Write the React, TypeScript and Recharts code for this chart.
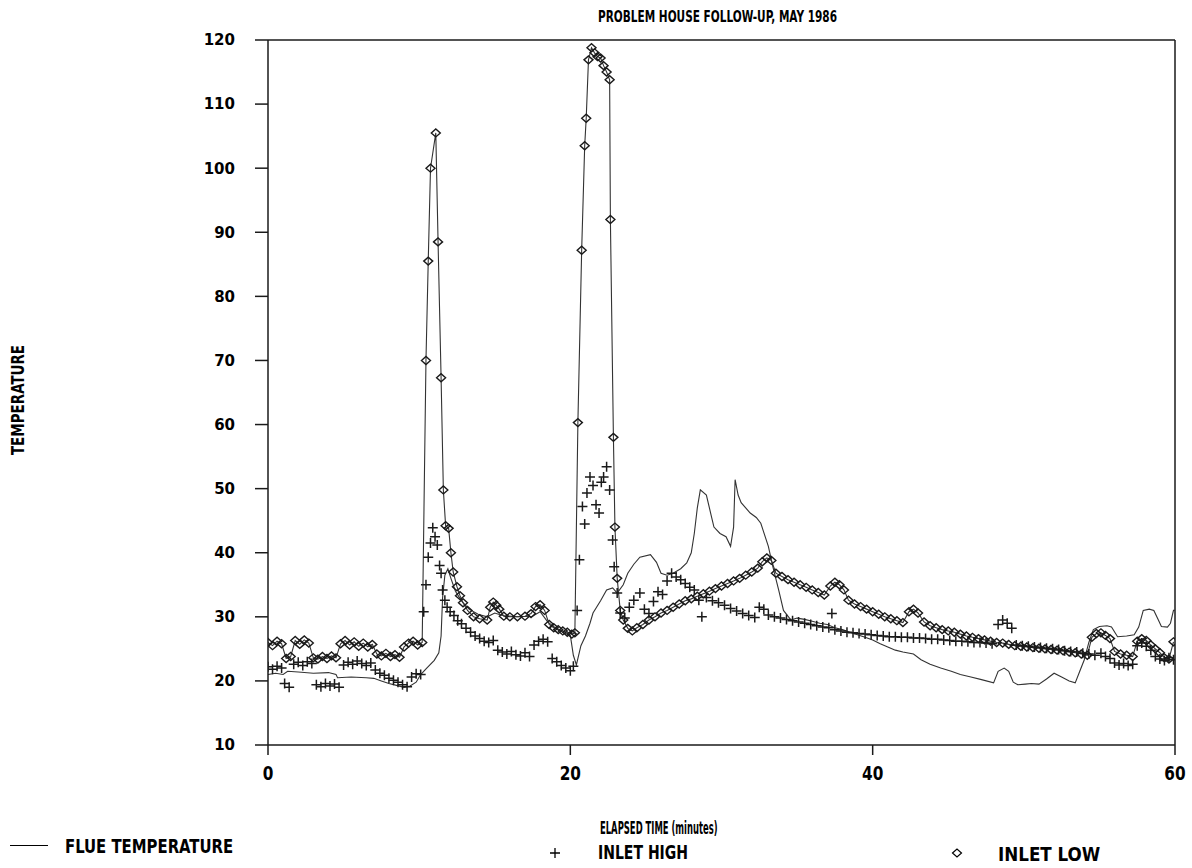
import React from "react";
import {
  ComposedChart,
  Line,
  Scatter,
  XAxis,
  YAxis,
  ReferenceLine,
} from "recharts";

// ---- Data: [elapsed time (minutes), temperature] ----
const FLUE_TEMPERATURE: [number, number][] = [
  [0, 21], [0.5, 21.2], [1, 21], [1.3, 21.5], [2, 21.4], [3, 21.2], [4, 21.3], [4.5, 21], [4.6, 20.5],
  [5.5, 20.6], [6.5, 20.5], [7, 20.4], [7.5, 20], [8, 19.6], [8.5, 19.3], [9, 19], [9.4, 19.2], [9.8, 19.8],
  [10.1, 21], [10.5, 22], [11, 23.2], [11.3, 24.4], [11.45, 27], [11.55, 33], [11.7, 36.5], [11.9, 37.5],
  [12.1, 36], [12.4, 34], [12.8, 32.5], [13.3, 31.2], [13.9, 30.4], [14.5, 30], [15, 30.6], [15.5, 30.2],
  [16.5, 30], [17.5, 30.1], [18, 30.8], [18.5, 29.2], [19, 28.3], [19.5, 27.6], [20, 27.1], [20.2, 24],
  [20.4, 22.5], [20.7, 25.5], [21, 27], [21.3, 29], [21.5, 30.6], [22, 32.5], [22.4, 34.2], [22.8, 34.5],
  [23.1, 33.7], [23.5, 35], [23.8, 36.8], [24.2, 38.2], [24.6, 39.3], [25.3, 39.7], [25.7, 38.5], [26, 36.8],
  [26.4, 36.5], [26.8, 36.8], [27.3, 37.5], [27.7, 38.4], [28, 40], [28.2, 43], [28.4, 47], [28.6, 49.8],
  [29, 49], [29.3, 46], [29.5, 44], [29.9, 43], [30.3, 42.5], [30.6, 41], [30.8, 44], [30.9, 51.4],
  [31.1, 49], [31.3, 47.8], [31.6, 47], [31.9, 46.2], [32.3, 45.5], [32.6, 44.6], [33.1, 41], [33.4, 37.8],
  [33.8, 34], [34.1, 31], [34.6, 29.5], [35, 29.8], [35.5, 29.6], [36, 29.3], [36.5, 29], [37, 28.8],
  [37.5, 28.3], [38, 28], [38.5, 27.6], [39, 27.2], [39.5, 26.8], [40, 26.4], [40.5, 25.8], [41, 25.3],
  [41.5, 24.8], [42, 24.5], [42.7, 24.2], [43.2, 23.3], [43.8, 22.6], [44.5, 22], [45.2, 21.5], [45.8, 21],
  [46.5, 20.6], [47.2, 20.2], [48, 19.7], [48.3, 21.5], [48.7, 22], [49, 21.5], [49.3, 19.8], [49.6, 19.4],
  [50.1, 19.5], [50.5, 19.6], [51, 19.5], [51.5, 20.3], [52, 21.2], [52.5, 20.6], [53, 20], [53.4, 19.7],
  [53.7, 21.5], [54, 23.3], [54.3, 26], [54.6, 28], [55, 28.5], [55.5, 28.6], [55.8, 28.4], [56.2, 26.9],
  [56.8, 27], [57.3, 27.2], [57.6, 28.4], [57.9, 31], [58.3, 31.2], [58.6, 31], [58.9, 29.5], [59.1, 28.5],
  [59.5, 28.4], [59.7, 29], [59.9, 31], [60, 31],
];

const INLET_HIGH: [number, number][] = [
  [0, 22.2], [0.3, 21.8], [0.6, 22.3], [0.9, 22], [1.1, 19.6], [1.4, 19], [1.7, 22.6], [2.0, 22.9],
  [2.3, 22.4], [2.6, 23], [2.9, 22.7], [3.2, 19.4], [3.5, 19.1], [3.8, 19.6], [4.1, 19.2], [4.4, 19.5],
  [4.7, 19], [5.0, 22.5], [5.3, 22.9], [5.6, 22.6], [5.9, 23.1], [6.2, 22.7], [6.5, 22.4], [6.8, 22.8],
  [7.1, 21.7], [7.4, 21.2], [7.7, 20.9], [8.0, 20.4], [8.3, 20.1], [8.6, 19.8], [8.9, 19.4], [9.2, 19.1],
  [9.5, 20.6], [9.8, 21.1], [10.1, 21], [10.3, 30.8], [10.45, 35], [10.6, 39.3], [10.75, 41.5], [10.9, 43.9],
  [11.05, 42.5], [11.2, 41.2], [11.35, 38], [11.45, 36.8], [11.55, 34.2], [11.7, 32.6], [11.85, 31.5],
  [12.05, 30.8], [12.3, 30.2], [12.55, 29.4], [12.8, 28.9], [13.1, 28.2], [13.4, 27.6], [13.7, 27],
  [14.0, 26.6], [14.3, 26.2], [14.6, 26], [14.9, 26.3], [15.2, 24.8], [15.5, 24.5], [15.8, 24.2], [16.1, 24.6],
  [16.4, 24.1], [16.7, 23.9], [17.0, 24.4], [17.3, 23.8], [17.6, 25.6], [17.9, 26.2], [18.2, 26.5],
  [18.5, 26.1], [18.8, 23.5], [19.1, 23], [19.4, 22.4], [19.7, 22], [20.0, 21.6], [20.2, 22.3],
  [20.45, 31], [20.6, 38.9], [20.8, 47.2], [20.95, 44.5], [21.1, 49.3], [21.3, 51.8], [21.5, 50.5],
  [21.7, 47.5], [21.9, 46.2], [22.05, 51], [22.2, 51.8], [22.4, 53.4], [22.6, 49.8], [22.8, 42], [22.9, 37.8],
  [23.1, 33.7], [23.3, 30.6], [23.6, 29.8], [23.9, 31.5], [24.2, 32.6], [24.6, 33.7], [24.9, 31.2],
  [25.2, 30.5], [25.5, 32.4], [25.8, 33.9], [26.1, 33.5], [26.4, 35.6], [26.7, 36.8], [27.0, 36.2],
  [27.3, 35.8], [27.6, 35.2], [27.9, 34.6], [28.2, 34.2], [28.5, 32.6], [28.7, 30], [29.0, 33], [29.4, 32.5],
  [29.8, 32.2], [30.2, 31.8], [30.6, 31.3], [31.0, 30.9], [31.4, 30.5], [31.8, 30.2], [32.2, 29.9],
  [32.5, 31.5], [32.8, 31.2], [33.1, 30.3], [33.5, 30], [33.9, 29.8], [34.3, 29.6], [34.7, 29.4],
  [35.1, 29.2], [35.5, 29], [35.9, 28.8], [36.3, 28.6], [36.7, 28.4], [37.1, 28.3], [37.3, 30.5], [37.5, 28],
  [37.9, 27.8], [38.3, 27.6], [38.7, 27.5], [39.1, 27.4], [39.5, 27.3], [39.9, 27.2], [40.3, 27.1],
  [40.7, 27], [41.1, 26.9], [41.5, 26.9], [41.9, 26.8], [42.3, 26.8], [42.7, 26.7], [43.1, 26.7],
  [43.5, 26.6], [43.9, 26.5], [44.3, 26.5], [44.7, 26.4], [45.1, 26.3], [45.5, 26.2], [45.9, 26.2],
  [46.3, 26.1], [46.7, 26], [47.1, 26], [47.5, 25.9], [47.9, 25.8], [48.3, 28.8], [48.6, 29.5], [48.9, 29],
  [49.2, 28.2], [49.5, 25.6], [49.9, 25.5], [50.3, 25.4], [50.7, 25.3], [51.1, 25.2], [51.5, 25.1],
  [51.9, 25], [52.3, 24.9], [52.7, 24.7], [53.1, 24.6], [53.5, 24.5], [53.9, 24.3], [54.3, 24.2],
  [54.7, 24], [55.1, 24.3], [55.4, 23.8], [55.7, 23.5], [56.0, 22.8], [56.3, 22.5], [56.6, 22.7],
  [56.9, 22.4], [57.2, 22.6], [57.5, 25.5], [57.8, 25.9], [58.1, 25.4], [58.4, 24.8], [58.7, 23.8],
  [59.0, 23.4], [59.3, 23.2], [59.6, 23.6], [59.9, 23.3],
];

const INLET_LOW: [number, number][] = [
  [0, 26], [0.3, 25.5], [0.6, 26.2], [0.9, 25.8], [1.2, 23.5], [1.5, 23.8], [1.8, 26.3], [2.1, 25.7],
  [2.4, 26.4], [2.7, 25.9], [3.0, 23.6], [3.3, 23.4], [3.6, 23.8], [3.9, 23.5], [4.2, 23.9], [4.5, 23.6],
  [4.8, 25.8], [5.1, 26.3], [5.4, 25.6], [5.7, 26.1], [6.0, 25.4], [6.3, 25.9], [6.6, 25.3], [6.9, 25.7],
  [7.2, 24.2], [7.5, 23.9], [7.8, 24.3], [8.1, 23.8], [8.4, 24.1], [8.7, 23.7], [9.0, 25.3], [9.3, 25.9],
  [9.6, 26.2], [9.9, 25.6], [10.2, 26], [10.45, 70], [10.6, 85.5], [10.75, 100], [11.1, 105.5],
  [11.25, 88.5], [11.45, 67.3], [11.6, 49.8], [11.75, 44.2], [11.95, 43.8], [12.1, 40], [12.25, 37],
  [12.5, 34.7], [12.7, 33.3], [12.9, 32.2], [13.2, 31], [13.6, 30], [14.0, 29.7], [14.5, 29.5], [14.7, 31.5],
  [14.9, 32.3], [15.1, 31.8], [15.3, 31.2], [15.6, 30.1], [16.0, 30], [16.5, 30], [17.0, 30.1], [17.4, 30.5],
  [17.7, 31.6], [18.0, 31.9], [18.3, 31], [18.6, 28.8], [18.9, 28.3], [19.2, 28], [19.5, 27.8], [19.8, 27.6],
  [20.1, 27.3], [20.3, 27.5], [20.5, 60.3], [20.75, 87.2], [20.95, 103.5], [21.05, 107.8], [21.2, 116.9],
  [21.4, 118.8], [21.6, 118], [21.8, 117.4], [22.0, 117.2], [22.2, 116], [22.4, 115], [22.6, 113.8],
  [22.65, 92], [22.85, 58], [22.95, 44], [23.1, 36], [23.3, 31], [23.5, 29.5], [23.8, 28.2], [24.1, 27.8],
  [24.4, 28.3], [24.8, 28.8], [25.2, 29.5], [25.6, 30], [26.0, 30.6], [26.4, 31], [26.8, 31.5], [27.2, 32],
  [27.6, 32.5], [28.0, 32.8], [28.4, 33.2], [28.8, 33.6], [29.2, 34], [29.6, 34.4], [30.0, 34.8],
  [30.4, 35.2], [30.8, 35.6], [31.2, 36], [31.6, 36.5], [32.0, 37], [32.4, 37.6], [32.7, 38.6], [33.0, 39.2],
  [33.3, 38.8], [33.6, 36.8], [34.0, 36.3], [34.4, 35.8], [34.8, 35.4], [35.2, 35], [35.6, 34.6],
  [36.0, 34.2], [36.4, 33.8], [36.8, 33.4], [37.2, 34.8], [37.5, 35.4], [37.8, 35], [38.1, 34.2],
  [38.4, 32.6], [38.8, 32], [39.2, 31.6], [39.6, 31.2], [40.0, 30.8], [40.4, 30.4], [40.8, 30], [41.2, 29.7],
  [41.6, 29.4], [42.0, 29.1], [42.4, 30.8], [42.7, 31.2], [43.0, 30.6], [43.4, 29.2], [43.8, 28.6],
  [44.2, 28.3], [44.6, 28], [45.0, 27.8], [45.4, 27.6], [45.8, 27.3], [46.2, 27], [46.6, 26.8], [47.0, 26.6],
  [47.4, 26.4], [47.8, 26.2], [48.2, 26], [48.6, 25.9], [49.0, 25.7], [49.4, 25.5], [49.8, 25.4],
  [50.2, 25.3], [50.6, 25.2], [51.0, 25.1], [51.4, 25], [51.8, 24.9], [52.2, 24.8], [52.6, 24.7], [53.0, 24.5],
  [53.4, 24.4], [53.8, 24.2], [54.2, 24], [54.5, 26.8], [54.8, 27.4], [55.1, 27.5], [55.4, 27.1],
  [55.7, 26.6], [56.0, 24.6], [56.4, 24.2], [56.8, 24], [57.2, 23.8], [57.5, 26.2], [57.8, 26.6],
  [58.1, 26.3], [58.4, 25.6], [58.7, 25], [59.0, 24.4], [59.3, 23.6], [59.6, 23.4], [59.9, 26.1],
];

const X_TICKS = [0, 20, 40, 60];
const Y_TICKS = [10, 20, 30, 40, 50, 60, 70, 80, 90, 100, 110, 120];

const TITLE = "PROBLEM HOUSE FOLLOW-UP, MAY 1986";
const X_LABEL = "ELAPSED TIME (minutes)";
const Y_LABEL = "TEMPERATURE";
const SERIES_NAMES = ["FLUE TEMPERATURE", "INLET HIGH", "INLET LOW"];

const toPoints = (arr: [number, number][]) => arr.map(([t, v]) => ({ t, v }));

const NARROW = "'DejaVu Sans Condensed', 'Liberation Sans', sans-serif";
const INK = "#1a1a1a";

const Cross = (props: any) => {
  const { cx, cy } = props;
  if (cx == null || cy == null) return null;
  return (
    <path
      d={`M${cx - 5},${cy}H${cx + 5}M${cx},${cy - 5}V${cy + 5}`}
      stroke={INK}
      strokeWidth={1.5}
      fill="none"
    />
  );
};

const Diamond = (props: any) => {
  const { cx, cy, index } = props;
  if (cx == null || cy == null) return <g key={`d${index}`} />;
  return (
    <path
      key={`d${index}`}
      d={`M${cx - 4.5},${cy}L${cx},${cy - 4}L${cx + 4.5},${cy}L${cx},${cy + 4}Z`}
      stroke={INK}
      strokeWidth={1.4}
      fill="none"
    />
  );
};

const XTick = (props: any) => {
  const { x, y, payload } = props;
  return (
    <text
      x={x}
      y={y + 15}
      textAnchor="middle"
      fill="#000"
      fontFamily={NARROW}
      fontWeight={700}
      fontSize={20}
      transform={`translate(${x},0) scale(0.85,1) translate(${-x},0)`}
    >
      {payload.value}
    </text>
  );
};

const Label = ({
  left, top, size, sx, children,
}: { left: number; top: number; size: number; sx: number; children: React.ReactNode }) => (
  <div
    style={{
      position: "absolute", left, top, fontFamily: NARROW, fontWeight: 700, fontSize: size,
      color: "#000", whiteSpace: "nowrap", transform: `scaleX(${sx})`, transformOrigin: "left top",
    }}
  >
    {children}
  </div>
);

export default function App() {
  const flue = toPoints(FLUE_TEMPERATURE);
  const high = toPoints(INLET_HIGH);
  const low = toPoints(INLET_LOW);
  const W = 1192;
  const H = 868;
  return (
    <div style={{ position: "absolute", left: 0, top: 0, width: W, height: H, background: "#fff" }}>
      <ComposedChart
        width={W}
        height={H}
        margin={{ top: 40, right: 17, bottom: 93, left: 0 }}
      >
        <XAxis
          type="number"
          dataKey="t"
          domain={[0, 60]}
          ticks={X_TICKS}
          allowDataOverflow
          height={30}
          stroke={INK}
          strokeWidth={1.5}
          tickSize={10}
          tickMargin={10}
          tick={<XTick />}
        />
        <YAxis
          type="number"
          dataKey="v"
          domain={[10, 120]}
          ticks={Y_TICKS}
          allowDataOverflow
          width={268}
          stroke={INK}
          strokeWidth={1.5}
          tickSize={13}
          tickMargin={20}
          tick={{ fill: "#000", fontSize: 15, fontWeight: 700, fontFamily: "'DejaVu Sans', sans-serif" }}
        />
        <ReferenceLine y={120} stroke={INK} strokeWidth={1.5} />
        <ReferenceLine x={60} stroke={INK} strokeWidth={1.5} />
        <Line
          data={flue}
          dataKey="v"
          type="linear"
          stroke="#333"
          strokeWidth={1.1}
          dot={false}
          activeDot={false}
          isAnimationActive={false}
        />
        <Line
          data={low}
          dataKey="v"
          type="linear"
          stroke="#333"
          strokeWidth={1.1}
          dot={Diamond}
          activeDot={false}
          isAnimationActive={false}
        />
        <Scatter data={high} dataKey="v" shape={Cross} isAnimationActive={false} />
      </ComposedChart>

      <Label left={598} top={8} size={15} sx={0.78}>{TITLE}</Label>

      <div
        style={{
          position: "absolute", left: 18, top: 400, transform: "translate(-50%, -50%) rotate(-90deg) scaleX(0.88)",
          fontFamily: NARROW, fontWeight: 700, fontSize: 17, color: "#000", whiteSpace: "nowrap",
        }}
      >
        {Y_LABEL}
      </div>

      <Label left={600} top={817} size={18} sx={0.52}>{X_LABEL}</Label>

      <div style={{ position: "absolute", left: 10, top: 845, width: 38, height: 0, borderTop: "1.5px solid #000" }} />
      <Label left={65} top={835} size={19} sx={0.87}>{SERIES_NAMES[0]}</Label>

      <svg style={{ position: "absolute", left: 548, top: 846 }} width={14} height={14}>
        <path d="M2,7H12M7,2V12" stroke="#000" strokeWidth={1.3} />
      </svg>
      <Label left={598} top={841} size={19} sx={0.82}>{SERIES_NAMES[1]}</Label>

      <svg style={{ position: "absolute", left: 950, top: 846 }} width={14} height={14}>
        <path d="M2.5,7L7,3L11.5,7L7,11Z" stroke="#000" strokeWidth={1.2} fill="none" />
      </svg>
      <Label left={998} top={842} size={20} sx={0.93}>{SERIES_NAMES[2]}</Label>
    </div>
  );
}
